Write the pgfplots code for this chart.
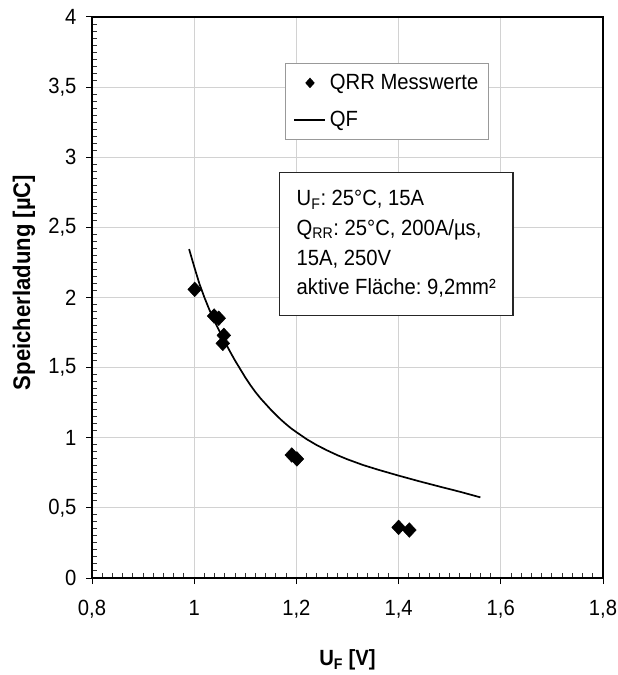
\documentclass[border=0pt]{standalone}
\usepackage{fontspec}
\setmainfont{Liberation Sans}[FakeStretch=0.92]
\usepackage{pgfplots}
\pgfplotsset{compat=1.18}
\frenchspacing
\begin{document}
\begin{tikzpicture}[x=1pt,y=1pt]
\path[use as bounding box] (0,0) rectangle (618,675);
\begin{axis}[
  at={(92pt,97pt)}, anchor=south west,
  scale only axis, width=511pt, height=561pt,
  xmin=0.8, xmax=1.8, ymin=0, ymax=4,
  xtick={0.8,1,1.2,1.4,1.6,1.8},
  ytick={0,0.5,1,1.5,2,2.5,3,3.5,4},
  minor x tick num=9, minor y tick num=9,
  xtick pos=bottom, ytick pos=left,
  tick align=outside,
  major tick length=6pt, minor tick length=-5pt,
  major tick style={line width=1pt, black},
  minor tick style={line width=1pt, black!80},
  axis line style={line width=2pt, black},
  grid=major,
  major grid style={gray!35, line width=1pt},
  /pgf/number format/use comma,
  /pgf/number format/assume math mode=true,
  tick label style={font=\fontsize{22}{26}\selectfont},
  xticklabel style={yshift=-13pt},
  yticklabel style={xshift=-6pt},
  xlabel={\textbf{U\textsubscript{F} [V]}},
  ylabel={\textbf{Speicherladung [µC]}},
  xlabel style={at={(axis description cs:0.5,0)}, anchor=center, yshift=-82pt, font=\fontsize{22}{26}\selectfont},
  ylabel style={at={(axis description cs:0,0.5267)}, anchor=center, yshift=68pt, font=\fontsize{24}{28}\selectfont},
  legend cell align=left,
  legend style={at={(rel axis cs:0.3777,0.918)}, anchor=north west,
    draw=gray!80, line width=1pt, font=\fontsize{22}{26}\selectfont,
    inner xsep=8pt, inner ysep=9pt, row sep=16pt, column sep=2pt},
  clip=false,
]
\addplot[only marks, mark=diamond*, mark size=7.3pt, black,
  mark options={xscale=1.25, line width=0.5pt},
  legend image code/.code={\path[draw=none] (0cm,0cm) -- (1.08cm,0cm);
    \path[draw=none] plot[mark=diamond*, mark size=4.5pt, mark options={draw=black, fill=black, xscale=1.2}] coordinates {(0.55cm,0cm)};}]
  coordinates {
  (1.001,2.058) (1.039,1.868) (1.048,1.852) (1.058,1.730) (1.056,1.673)
  (1.191,0.877) (1.201,0.849) (1.400,0.361) (1.421,0.342)
  };
\addlegendentry{QRR Messwerte}
\addplot[black, line width=1.7pt,
  legend image code/.code={\draw[black, line width=1.7pt] (0cm,0cm) -- (1.08cm,0cm);}]
  coordinates {
  (0.99,2.345) (1.00,2.22) (1.01,2.10) (1.02,2.00) (1.03,1.91) (1.04,1.83)
  (1.05,1.755) (1.06,1.685) (1.07,1.615) (1.08,1.55) (1.09,1.49) (1.10,1.43)
  (1.11,1.375) (1.12,1.325) (1.13,1.28) (1.14,1.24) (1.15,1.20) (1.16,1.163)
  (1.17,1.128) (1.18,1.096) (1.19,1.066) (1.20,1.04) (1.22,0.99) (1.24,0.947)
  (1.26,0.91) (1.28,0.876) (1.30,0.846) (1.33,0.806) (1.36,0.772) (1.40,0.73)
  (1.44,0.69) (1.48,0.652) (1.52,0.615) (1.56,0.575)
  };
\addlegendentry{QF}
\node[draw=black!85, line width=1.5pt, anchor=north west, fill=white,
  inner xsep=17pt, inner ysep=18pt, align=left, minimum width=233pt,
  font=\fontsize{22}{29.7}\selectfont]
  at (rel axis cs:0.3659,0.7246)
  {U\textsubscript{F}: 25°C, 15A\\Q\textsubscript{RR}: 25°C, 200A/µs,\\15A, 250V\\aktive Fläche: 9,2mm²};
\end{axis}
\end{tikzpicture}
\end{document}
